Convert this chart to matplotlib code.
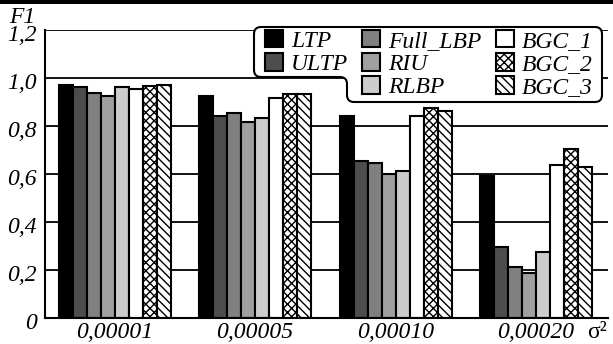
import matplotlib
matplotlib.use("Agg")
import matplotlib.pyplot as plt
from matplotlib.patches import Rectangle, PathPatch
from matplotlib.path import Path
import matplotlib.transforms as mtransforms
import numpy as np

groups = ["0,00001", "0,00005", "0,00010", "0,00020"]
methods = ["LTP", "ULTP", "Full_LBP", "RIU", "RLBP", "BGC_1", "BGC_2", "BGC_3"]
ltp      = [0.970, 0.924, 0.840, 0.590]
ultp     = [0.961, 0.842, 0.655, 0.297]
full_lbp = [0.936, 0.855, 0.646, 0.214]
riu      = [0.926, 0.817, 0.601, 0.186]
rlbp     = [0.961, 0.833, 0.611, 0.274]
bgc_1    = [0.954, 0.918, 0.843, 0.639]
bgc_2    = [0.968, 0.935, 0.876, 0.704]
bgc_3    = [0.972, 0.935, 0.862, 0.629]
yticks = [0, 0.2, 0.4, 0.6, 0.8, 1.0, 1.2]
ytick_labels = ["0", "0,2", "0,4", "0,6", "0,8", "1,0", "1,2"]

series = [ltp, ultp, full_lbp, riu, rlbp, bgc_1, bgc_2, bgc_3]
colors = ["#000000", "#4d4d4d", "#808080", "#a0a0a0", "#cccccc", "#ffffff", "#ffffff", "#ffffff"]
hatches = [None, None, None, None, None, None, "xxxx", "\\\\\\\\"]

plt.rcParams["hatch.linewidth"] = 1.0
FONT = "Liberation Serif"
FS = 17

W, H = 613, 344
fig = plt.figure(figsize=(W / 100, H / 100), dpi=100)
ax = fig.add_axes([45 / W, 1 - 318 / H, (608 - 45) / W, 288 / H])

x = np.arange(len(groups))
bw = 0.0997
handles = []
for i, (vals, c, h, name) in enumerate(zip(series, colors, hatches, methods)):
    pos = x + (i - 3.5) * bw
    b = ax.bar(pos, vals, width=bw, color=c, edgecolor="black", linewidth=1.5,
               hatch=h, label=name, zorder=3)
    handles.append(b)

ax.set_xlim(-0.495, 3.512)
ax.set_ylim(0, 1.2)
ax.set_yticks(yticks)
ax.set_yticklabels(ytick_labels, fontfamily=FONT, fontstyle="italic", fontsize=FS)
ax.set_xticks(x)
ax.set_xticklabels(groups, fontfamily=FONT, fontstyle="italic", fontsize=FS)
ax.tick_params(axis="x", length=0, pad=3)
ax.tick_params(axis="y", length=0, pad=6)
shift = mtransforms.ScaledTranslation(0, -3.0 / 100, fig.dpi_scale_trans)
for lab in ax.get_yticklabels():
    lab.set_transform(lab.get_transform() + shift)
ax.yaxis.grid(True, color="black", linewidth=1.3, zorder=0)
ax.set_axisbelow(True)
for s in ["top", "right"]:
    ax.spines[s].set_visible(False)
for s in ["left", "bottom"]:
    ax.spines[s].set_linewidth(1.5)
    ax.spines[s].set_zorder(4)

# top black bar
fig.patches.append(Rectangle((0, 1 - 4 / H), 1, 4 / H, transform=fig.transFigure,
                             facecolor="black", edgecolor="none"))

fig.text(9 / W, 1 - 23 / H, "F1", fontfamily=FONT, fontstyle="italic", fontsize=FS,
         ha="left", va="baseline")
fig.text(587 / W, 1 - 332 / H, "σ²", fontfamily=FONT, fontsize=FS, ha="left", va="center")

# legend frame (notched rounded shape) in pixel coords
def rounded_path(pts, r):
    verts, codes = [], []
    n = len(pts)
    for k in range(n):
        p0 = np.array(pts[k - 1], float)
        p1 = np.array(pts[k], float)
        p2 = np.array(pts[(k + 1) % n], float)
        d1 = (p0 - p1) / np.linalg.norm(p0 - p1)
        d2 = (p2 - p1) / np.linalg.norm(p2 - p1)
        a = p1 + d1 * r
        b = p1 + d2 * r
        if k == 0:
            verts.append(a); codes.append(Path.MOVETO)
        else:
            verts.append(a); codes.append(Path.LINETO)
        verts.append(p1); codes.append(Path.CURVE3)
        verts.append(b); codes.append(Path.CURVE3)
    verts.append(verts[0]); codes.append(Path.CLOSEPOLY)
    return verts, codes

pix = [(254, 27), (602, 27), (602, 102), (347, 102), (347, 77), (254, 77)]
verts, codes = rounded_path(pix, 7)
verts = [(vx / W, 1 - vy / H) for vx, vy in verts]
frame = PathPatch(Path(verts, codes), transform=fig.transFigure, facecolor="white",
                  edgecolor="black", linewidth=1.5, zorder=5)
ax.add_patch(frame)
frame.set_clip_on(False)

blank = Rectangle((0, 0), 1, 1, visible=False)
leg_handles = [handles[0], handles[1], blank, handles[2], handles[3], handles[4],
               handles[5], handles[6], handles[7]]
leg_labels = ["LTP", "ULTP", "", "Full_LBP", "RIU", "RLBP", "BGC_1", "BGC_2", "BGC_3"]
leg = ax.legend(leg_handles, leg_labels, ncol=3, loc="upper left",
                bbox_to_anchor=(264 / W, 1 - 29 / H), bbox_transform=fig.transFigure,
                frameon=False, prop={"family": FONT, "style": "italic", "size": FS},
                handlelength=0.75, handleheight=0.75, handletextpad=0.35,
                columnspacing=0.6, labelspacing=0.05, borderpad=0.05, borderaxespad=0)
leg.set_zorder(6)

fig.savefig("out.png", dpi=100)
